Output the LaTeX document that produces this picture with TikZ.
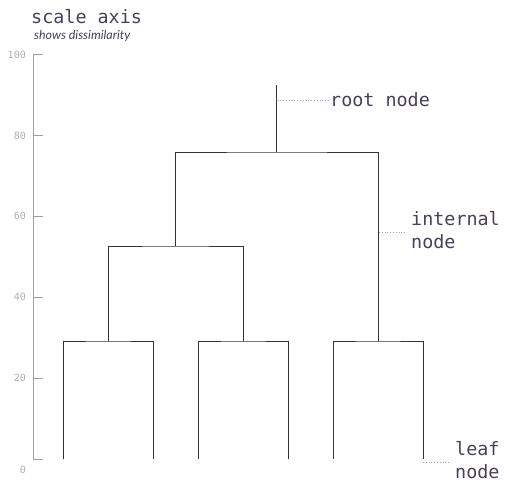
\documentclass[tikz,border=0pt]{standalone}
\usepackage{fontspec}
\setmonofont{DejaVu Sans Mono}
\newfontfamily\itfont{Lato}
\definecolor{txt}{HTML}{4A3F5A}
\definecolor{axisc}{HTML}{A0A0A0}
\definecolor{tickc}{HTML}{B0ADB8}
\definecolor{linec}{HTML}{333333}
\begin{document}
\begin{tikzpicture}[x=1pt,y=-1pt,
  dend/.style={draw=linec,line width=0.95pt},
  axisline/.style={draw=axisc,line width=1pt},
  lead/.style={draw=axisc,line width=0.8pt,dotted},
  lbl/.style={text=txt,font=\fontsize{18.4}{22.5}\selectfont\ttfamily,inner sep=0pt,anchor=west,align=left},
  ticklbl/.style={text=tickc,font=\fontsize{10}{12}\selectfont\ttfamily,inner sep=0pt,anchor=east}]
\useasboundingbox (0,0) rectangle (505,489);
% axis
\draw[axisline] (43,55) -- (33,55) -- (33,459) -- (43,459);
\foreach \v/\y in {100/55,80/136,60/216,40/297,20/378}{
  \draw[axisline] (33,\y) -- (43,\y);
  \node[ticklbl] at (26,\y) {\v};
}
\node[ticklbl] (zero) at (26,470) {0};
\node[lbl] (title) at (31,17) {scale axis};
\node[text=txt,font=\fontsize{12.4}{14}\selectfont\itfont\itshape,inner sep=0pt,anchor=west] (sub) at (34,35.5) {shows dissimilarity};
% leaves
\foreach \n/\x in {l1/63,l2/153,l3/198,l4/288,l5/333,l6/423}{
  \coordinate (\n) at (\x,459);
}
\coordinate (p1) at (108,341);
\coordinate (p2) at (243,341);
\coordinate (p3) at (378,341);
\coordinate (q1) at (175.5,246);
\coordinate (r) at (276.75,152);
\coordinate (top) at (276.75,85);
\draw[dend] (l1) |- (p1) -| (l2);
\draw[dend] (l3) |- (p2) -| (l4);
\draw[dend] (l5) |- (p3) -| (l6);
\draw[dend] (p1) |- (q1) -| (p2);
\draw[dend] (q1) |- (r) -| (p3);
\draw[dend] (r) -- (top);
% annotations
\node[lbl] (rootlbl) at (330,100) {root node};
\coordinate (ra) at (277.5,100);
\draw[lead] (ra) -- (rootlbl.west);
\node[lbl] (intlbl) at (411,230) {internal\\node};
\coordinate (ia) at (379,232);
\draw[lead] (ia) -- ([xshift=-5pt]intlbl.west |- ia);
\node[lbl] (leaflbl) at (455,460) {leaf\\node};
\coordinate (la) at (423,462);
\draw[lead] (la) -- ([xshift=-4pt]leaflbl.west |- la);
\end{tikzpicture}
\end{document}
